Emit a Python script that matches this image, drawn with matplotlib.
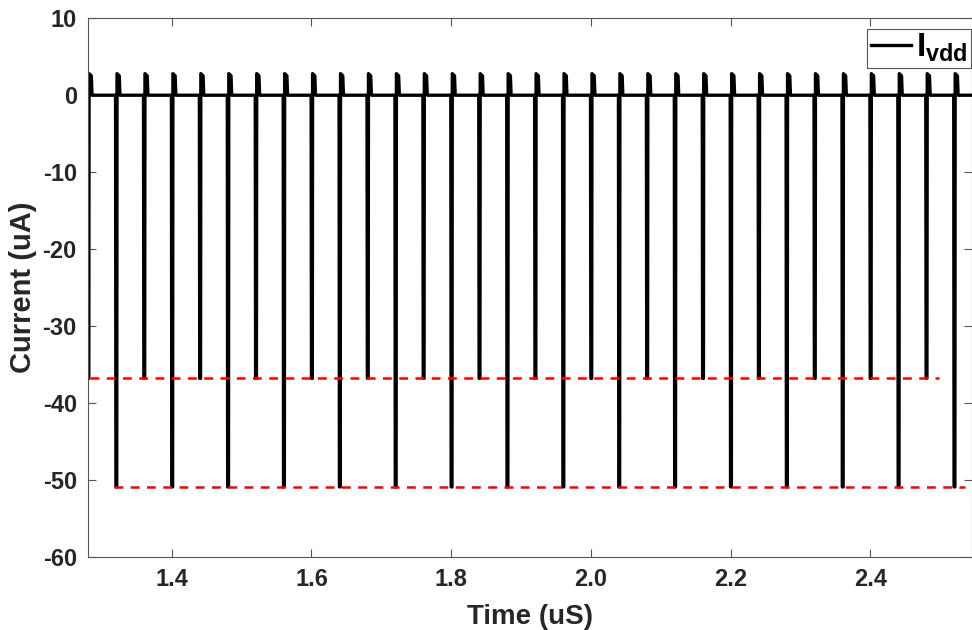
import numpy as np
import matplotlib
matplotlib.use('Agg')
import matplotlib.pyplot as plt

plt.rcParams['font.family'] = ['Liberation Sans', 'DejaVu Sans']
plt.rcParams['font.weight'] = 'bold'
plt.rcParams['axes.unicode_minus'] = False
plt.rcParams['mathtext.fontset'] = 'custom'
plt.rcParams['mathtext.rm'] = 'Liberation Sans:bold'
plt.rcParams['mathtext.bf'] = 'Liberation Sans:bold'

## Data
shallow_times = [1.28, 1.36, 1.44, 1.52, 1.60, 1.68, 1.76, 1.84, 1.92, 2.00,
                 2.08, 2.16, 2.24, 2.32, 2.40, 2.48]
deep_times = [1.32, 1.40, 1.48, 1.56, 1.64, 1.72, 1.80, 1.88, 1.96, 2.04,
              2.12, 2.20, 2.28, 2.36, 2.44, 2.52]
shallow_depth = -36.8
deep_depth = -50.9
overshoot = 2.8
baseline = 0.0

# reference lines (red dashed)
ref_shallow_x = [1.283, 2.499]
ref_deep_x = [1.317, 2.535]

## Build the current waveform from the spike list
events = sorted([(t, shallow_depth) for t in shallow_times] +
                [(t, deep_depth) for t in deep_times])
t_wave = [1.27]
i_wave = [baseline]
for t0, depth in events:
    t_wave += [t0 - 0.0005, t0, t0 + 0.0012, t0 + 0.0016, t0 + 0.0048, t0 + 0.0058]
    i_wave += [baseline, depth, depth, overshoot, overshoot * 0.9, baseline]
t_wave.append(2.56)
i_wave.append(baseline)

fig = plt.figure(figsize=(9.72, 6.3), dpi=100)
ax = fig.add_axes([0.0905, 0.116, 0.909, 0.855])

ax.plot(t_wave, i_wave, color='black', lw=2.4, label=r'$\mathbf{I_{vdd}}$', zorder=2)
ax.plot(ref_shallow_x, [shallow_depth, shallow_depth], '--', color='red', lw=1.8,
        dashes=(3.5, 3), zorder=3)
ax.plot(ref_deep_x, [deep_depth, deep_depth], '--', color='red', lw=1.8,
        dashes=(3.5, 3), zorder=3)

ax.set_xlim(1.28, 2.545)
ax.set_ylim(-60, 10)
ax.set_xticks([1.4, 1.6, 1.8, 2.0, 2.2, 2.4])
ax.set_xticklabels(['1.4', '1.6', '1.8', '2.0', '2.2', '2.4'])
ax.set_yticks(np.arange(-60, 11, 10))

ax.tick_params(direction='in', length=6, width=0.8, color='#555555',
               labelsize=17, labelcolor='#262626', top=True, right=True, pad=8)
for s in ax.spines.values():
    s.set_color('#555555')
    s.set_linewidth(0.8)

ax.set_xlabel('Time (uS)', fontsize=20, fontweight='bold', color='#262626', labelpad=9)
ax.set_ylabel('Current (uA)', fontsize=21, fontweight='bold', color='#262626', labelpad=4)

leg = ax.legend(loc='upper right', fontsize=24, handlelength=1.2, handletextpad=0.15,
                borderpad=0.1, borderaxespad=0, fancybox=False, framealpha=1,
                edgecolor='#555555', bbox_to_anchor=(0.999, 0.981))
leg.get_frame().set_linewidth(0.8)

fig.savefig('out.png', dpi=100)
